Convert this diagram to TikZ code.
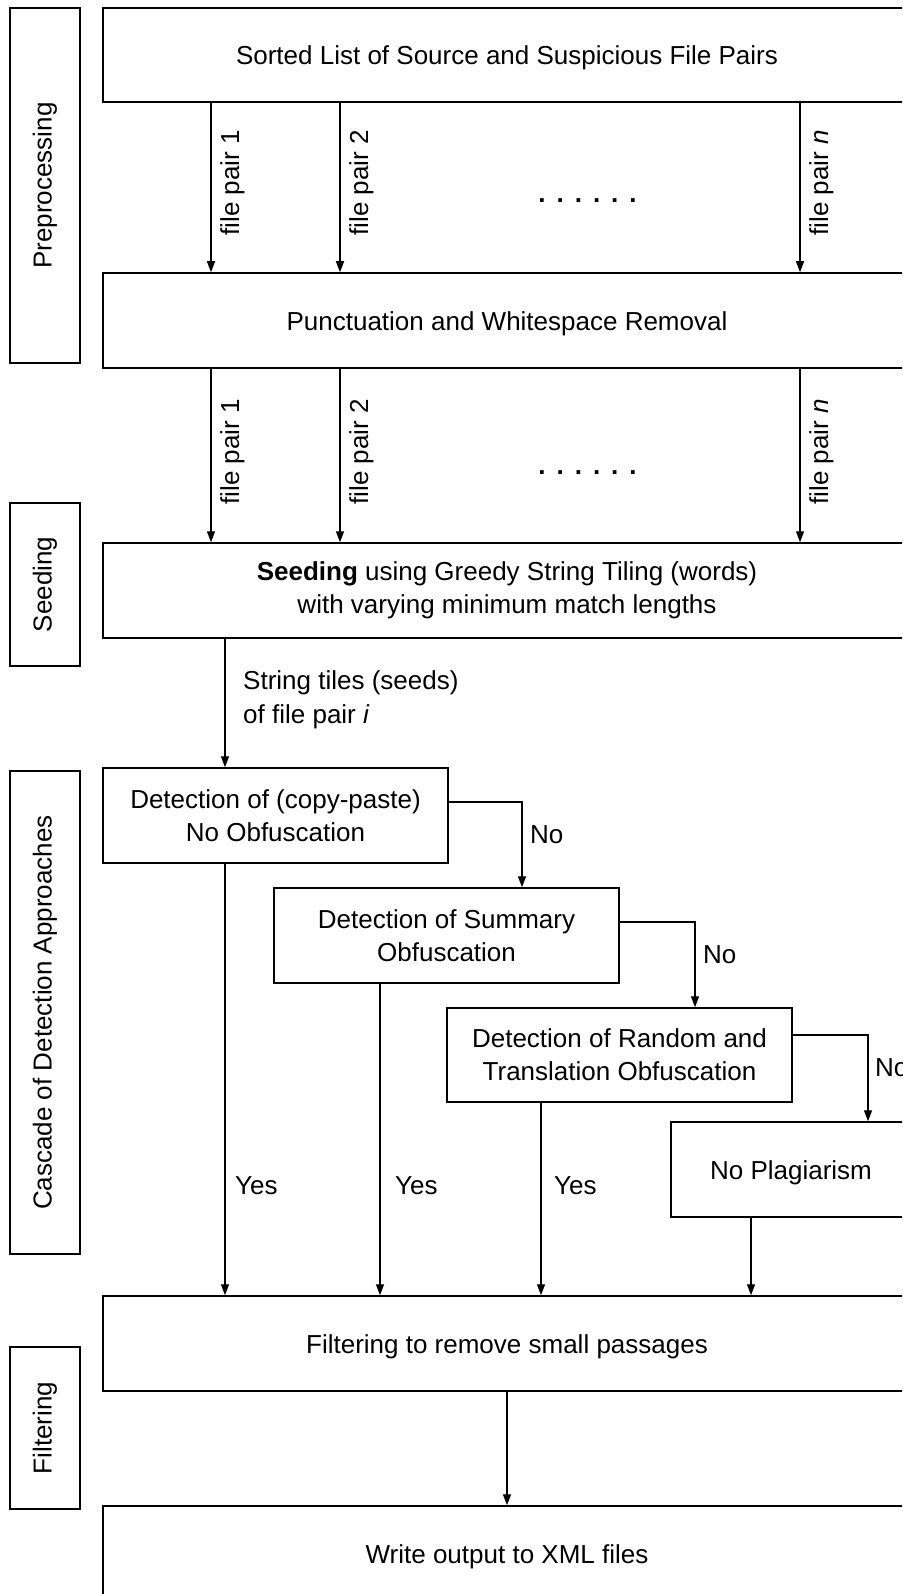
\documentclass[tikz,border=0pt]{standalone}
\usepackage{fontspec}
\setmainfont{Liberation Sans}
\usetikzlibrary{arrows.meta,calc}

\tikzset{
  txt/.style={font=\fontsize{26}{33}\selectfont, align=center, inner sep=0pt},
  box/.style={txt, draw, line width=1.5},
  oneline/.style={text height=24pt, text depth=4.5pt},
  widebox/.style={box, minimum width=808, minimum height=95},
  detbox/.style={box, minimum width=345, minimum height=95},
  lanebox/.style={box, rotate=90, minimum width=#1, minimum height=70},
  arr/.style={line width=1.4, -{Triangle[length=11pt,width=8pt]}},
  vlabel/.style={txt, rotate=90, anchor=north},
  elabel/.style={txt, anchor=west, align=left},
  dotrow/.style={txt, anchor=base, font=\fontsize{26}{33}\selectfont\bfseries},
}

\begin{document}
\begin{tikzpicture}[x=1pt, y=-1pt]
  \useasboundingbox (0,0) rectangle (902,1594);
  \fill[white] (0,0) rectangle (902,1594);
  \clip (0,0) rectangle (902,1594);

  % stage labels on the left
  \node[lanebox=355] (lpre)  at (45,185.5)  {Preprocessing};
  \node[lanebox=163] (lseed) at (45,584.5)  {Seeding};
  \node[lanebox=483] (lcas)  at (45,1012.5) {Cascade of Detection Approaches};
  \node[lanebox=162] (lfil)  at (45,1428)   {Filtering};

  % main process boxes
  \node[widebox, oneline, minimum height=94] (src) at (507,55) {Sorted List of Source and Suspicious File Pairs};
  \node[widebox, oneline] (pun)  at (507,320.5) {Punctuation and Whitespace Removal};
  \node[widebox] (seed) at (507,590.5) {\textbf{Seeding} using Greedy String Tiling (words)\\with varying minimum match lengths};
  \node[detbox] (d1) at (275.5,815.5) {Detection of (copy-paste)\\No Obfuscation};
  \node[detbox] (d2) at (446.5,935.5) {Detection of Summary\\Obfuscation};
  \node[detbox, minimum height=94] (d3) at (619.5,1055) {Detection of Random and\\Translation Obfuscation};
  \node[box, oneline, minimum width=240, minimum height=95] (np) at (791,1169.5) {No Plagiarism};
  \node[widebox, oneline] (filt) at (507,1343.5) {Filtering to remove small passages};
  \node[widebox, oneline] (out)  at (507,1553.5) {Write output to XML files};

  % columns of the connectors
  \coordinate (p1) at (211,0);
  \coordinate (p2) at (340,0);
  \coordinate (pn) at (800,0);
  \coordinate (ca) at (225,0);
  \coordinate (cb) at (380,0);
  \coordinate (cc) at (541,0);
  \coordinate (cd) at (751,0);
  \coordinate (k1) at (522,0);
  \coordinate (k2) at (695,0);
  \coordinate (k3) at (868,0);

  % file pairs: sorted list -> punctuation removal
  \draw[arr] (src.south -| p1) -- (pun.north -| p1);
  \draw[arr] (src.south -| p2) -- (pun.north -| p2);
  \draw[arr] (src.south -| pn) -- (pun.north -| pn);
  \node[vlabel] at (220,183) {file pair 1};
  \node[vlabel] at (349,183) {file pair 2};
  \node[vlabel] at (809,183) {file pair \textit{n}};
  \node[dotrow] (dots1) at (587.5,203) {.\hskip11pt.\hskip11pt.\hskip11pt.\hskip11pt.\hskip11pt.};

  % file pairs: punctuation removal -> seeding
  \draw[arr] (pun.south -| p1) -- (seed.north -| p1);
  \draw[arr] (pun.south -| p2) -- (seed.north -| p2);
  \draw[arr] (pun.south -| pn) -- (seed.north -| pn);
  \node[vlabel] at (220,452) {file pair 1};
  \node[vlabel] at (349,452) {file pair 2};
  \node[vlabel] at (809,452) {file pair \textit{n}};
  \node[dotrow] (dots2) at (587.5,474) {.\hskip11pt.\hskip11pt.\hskip11pt.\hskip11pt.\hskip11pt.};

  % seeds into the cascade
  \draw[arr] (seed.south -| ca) -- (d1.north -| ca);
  \node[elabel, font=\fontsize{26}{34}\selectfont] at (243,700) {String tiles (seeds)\\of file pair \textit{i}};

  % cascade: "No" branches
  \draw[arr] ([yshift=13.5]d1.east) -| (d2.north -| k1);
  \draw[arr] ([yshift=13.5]d2.east) -| (d3.north -| k2);
  \draw[arr] ([yshift=20]d3.east) -| (np.north -| k3);
  \node[elabel] at (530,835) {No};
  \node[elabel] at (703,955) {No};
  \node[elabel] at (875,1068) {No};

  % cascade: "Yes" branches into filtering
  \draw[arr] (d1.south -| ca) -- (filt.north -| ca);
  \draw[arr] (d2.south -| cb) -- (filt.north -| cb);
  \draw[arr] (d3.south -| cc) -- (filt.north -| cc);
  \draw[arr] (np.south -| cd) -- (filt.north -| cd);
  \node[elabel] at (235,1186) {Yes};
  \node[elabel] at (395,1186) {Yes};
  \node[elabel] at (554,1186) {Yes};

  % output
  \draw[arr] (filt.south) -- (out.north);
\end{tikzpicture}
\end{document}
